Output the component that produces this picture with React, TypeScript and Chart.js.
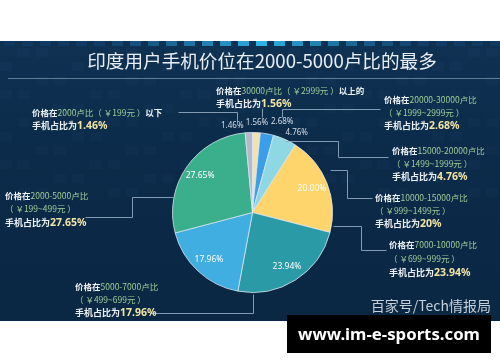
import React, { useEffect, useRef } from 'react';
import { Chart, registerables } from 'chart.js';

Chart.register(...registerables);

// ---------- data ----------
const categories = ['30000卢比以上', '20000-30000卢比', '15000-20000卢比', '10000-15000卢比', '7000-10000卢比', '5000-7000卢比', '2000-5000卢比', '2000卢比以下'];
const shares = [1.56, 2.68, 4.76, 20, 23.94, 17.96, 27.65, 1.46];
const rupeeRanges = ['30000卢比', '20000-30000卢比', '15000-20000卢比', '10000-15000卢比', '7000-10000卢比', '5000-7000卢比', '2000-5000卢比', '2000卢比'];
const yuanRanges = ['￥2999元', '￥1999~2999元', '￥1499~1999元', '￥999~1499元', '￥699~999元', '￥499~699元', '￥199~499元', '￥199元'];
const rangeSuffix = ['以上的', '', '', '', '', '', '', '以下'];
const titleText = '印度用户手机价位在2000-5000卢比的最多';
const sourceText = '百家号/Tech情报局';
const siteText = 'www.im-e-sports.com';

// ---------- styles / layout ----------
const sliceColors = ['#F3E3AA', '#3A9EEA', '#8ED8E4', '#FDD56C', '#2A9BA6', '#40AEE0', '#3BAF8B', '#B4B9CC'];
const CJK = '"Noto Sans CJK SC", "Noto Sans", sans-serif';
const LATIN = '"Noto Sans", "Noto Sans CJK SC", sans-serif';
const WHITE = '#EEF2F6';
const GREEN = '#9FCE98';
const CREAM = '#F1E4A4';
const LINE = 'rgba(150,175,200,0.85)';

const calloutLayout = [
  { x: 216, y: [91, 104], line: [[262, 108], [262, 117]] },
  { x: 384, y: [100, 113, 126], line: [[380, 109], [282, 109], [282, 117]] },
  { x: 392, y: [151, 164, 177], line: [[285, 141], [338, 141], [338, 157], [388, 157]] },
  { x: 375, y: [198, 211, 224], line: [[330, 170], [347, 170], [347, 198], [372, 198]] },
  { x: 389, y: [245, 259, 273], line: [[333, 226], [361, 226], [361, 250], [386, 250]] },
  { x: 75, y: [287, 300, 313], line: [[150, 313], [253, 313], [253, 294]] },
  { x: 5, y: [196, 209, 223], line: [[173, 197], [132, 197], [132, 217], [85, 217]] },
  { x: 32, y: [113, 126], line: [[178, 112], [237, 112], [237, 122]] },
];
const outerNudge = [[0, 2], [13, 0], [7, 4], [0, 0], [0, 0], [0, 0], [0, 0], [-16, 5]];

type Run = { text: string; font: string; color: string };

function drawRuns(ctx: CanvasRenderingContext2D, x: number, y: number, runs: Run[]) {
  let cx = x;
  ctx.textAlign = 'left';
  ctx.textBaseline = 'middle';
  for (const r of runs) {
    if (!r.text) continue;
    ctx.font = r.font;
    ctx.fillStyle = r.color;
    ctx.fillText(r.text, cx, y);
    cx += ctx.measureText(r.text).width;
  }
}

function fitFont(ctx: CanvasRenderingContext2D, text: string, weight: string, family: string, width: number) {
  ctx.font = `${weight} 20px ${family}`;
  const w = ctx.measureText(text).width;
  return `${weight} ${(20 * width / w).toFixed(2)}px ${family}`;
}

const backdropPlugin = {
  id: 'backdrop',
  beforeDraw(chart: any) {
    const ctx: CanvasRenderingContext2D = chart.ctx;
    const W = chart.width, H = chart.height;
    ctx.save();
    ctx.fillStyle = '#FFFFFF';
    ctx.fillRect(0, 0, W, H);
    const g = ctx.createLinearGradient(0, 41, 0, 321);
    g.addColorStop(0, '#0F3152');
    g.addColorStop(0.4, '#0C2B4A');
    g.addColorStop(1, '#0A2743');
    ctx.fillStyle = g;
    ctx.fillRect(0, 41, W, 280);
    // faint texture blocks
    ctx.fillStyle = 'rgba(60,110,160,0.06)';
    for (let x = 0; x < W; x += 18) {
      for (let y = 48; y < 200; y += 14) {
        if (((x * 7 + y * 3) % 5) < 2) ctx.fillRect(x, y, 12, 9);
      }
    }
    // top stripe of squares
    for (let x = 4; x < W; x += 18) {
      const d = Math.abs(x + 5 - 262) / 262;
      const bright = Math.max(0, 1 - d * 1.6);
      const r = Math.round(20 + 25 * bright);
      const gg = Math.round(70 + 110 * bright);
      const b = Math.round(120 + 110 * bright);
      const a = 0.35 + 0.65 * Math.max(0, 1 - d);
      ctx.fillStyle = `rgba(${r},${gg},${b},${a})`;
      ctx.fillRect(x, 41, 11, 5);
    }
    // title
    ctx.font = fitFont(ctx, titleText, '400', CJK, 350);
    ctx.fillStyle = '#E8EEF4';
    ctx.textAlign = 'center';
    ctx.textBaseline = 'middle';
    ctx.fillText(titleText, 262, 61);
    // title rule
    ctx.strokeStyle = 'rgba(160,185,210,0.55)';
    ctx.lineWidth = 1;
    ctx.beginPath();
    ctx.moveTo(8, 78.5);
    ctx.lineTo(W, 78.5);
    ctx.stroke();
    ctx.restore();
  },
  afterDatasetsDraw(chart: any) {
    const ctx: CanvasRenderingContext2D = chart.ctx;
    const meta = chart.getDatasetMeta(0);
    ctx.save();
    // slice labels
    meta.data.forEach((arc: any, i: number) => {
      const p = arc.getProps(['x', 'y', 'startAngle', 'endAngle', 'outerRadius'], true);
      const mid = (p.startAngle + p.endAngle) / 2;
      const v = shares[i];
      const txt = v.toFixed(2) + '%';
      ctx.textAlign = 'center';
      ctx.textBaseline = 'middle';
      if (v >= 10) {
        const r = p.outerRadius * 0.8;
        ctx.font = `400 8.5px ${LATIN}`;
        ctx.fillStyle = '#FFFFFF';
        ctx.fillText(txt, p.x + Math.cos(mid) * r, p.y + Math.sin(mid) * r);
      } else {
        const r = p.outerRadius + 12;
        ctx.font = `400 8px ${LATIN}`;
        ctx.fillStyle = '#D6DEE6';
        ctx.fillText(txt, p.x + Math.cos(mid) * r + outerNudge[i][0], p.y + Math.sin(mid) * r + outerNudge[i][1]);
      }
    });
    // callouts
    shares.forEach((v, i) => {
      const L = calloutLayout[i];
      ctx.strokeStyle = LINE;
      ctx.lineWidth = 1;
      ctx.beginPath();
      L.line.forEach((pt, k) => {
        const px = Math.round(pt[0]) + 0.5, py = Math.round(pt[1]) + 0.5;
        if (k === 0) ctx.moveTo(px, py); else ctx.lineTo(px, py);
      });
      ctx.stroke();
      const boldW = `700 8.5px ${CJK}`;
      const reg = `400 8.5px ${CJK}`;
      const pct: Run[] = [
        { text: '手机占比为', font: `700 9px ${CJK}`, color: WHITE },
        { text: `${v}%`, font: `700 10.5px ${LATIN}`, color: CREAM },
      ];
      if (L.y.length === 2) {
        drawRuns(ctx, L.x, L.y[0], [
          { text: '价格在', font: boldW, color: WHITE },
          { text: `${rupeeRanges[i]}（ ${yuanRanges[i]} ）`, font: reg, color: GREEN },
          { text: rangeSuffix[i], font: boldW, color: WHITE },
        ]);
        drawRuns(ctx, L.x, L.y[1], pct);
      } else {
        drawRuns(ctx, L.x, L.y[0], [
          { text: '价格在', font: boldW, color: WHITE },
          { text: rupeeRanges[i], font: reg, color: GREEN },
        ]);
        drawRuns(ctx, L.x, L.y[1], [{ text: `（ ${yuanRanges[i]} ）`, font: reg, color: GREEN }]);
        drawRuns(ctx, L.x, L.y[2], pct);
      }
    });
    // source watermark
    ctx.font = `400 14px ${CJK}`;
    ctx.fillStyle = '#C8D0D9';
    ctx.textAlign = 'right';
    ctx.textBaseline = 'middle';
    ctx.fillText(sourceText, 491, 306);
    // site badge
    ctx.fillStyle = '#000000';
    ctx.fillRect(287, 315, 204, 38);
    ctx.font = fitFont(ctx, siteText, '700', LATIN, 182);
    ctx.fillStyle = '#FFFFFF';
    ctx.textAlign = 'center';
    ctx.fillText(siteText, 389, 335);
    ctx.restore();
  },
};

export default function App() {
  const ref = useRef<HTMLCanvasElement | null>(null);
  useEffect(() => {
    if (!ref.current) return;
    const chart = new Chart(ref.current, {
      type: 'pie',
      data: {
        labels: categories,
        datasets: [
          {
            data: shares,
            backgroundColor: sliceColors,
            borderColor: 'rgba(225,235,245,0.75)',
            borderWidth: 1,
          },
        ],
      },
      options: {
        responsive: false,
        animation: false,
        devicePixelRatio: 1,
        events: [],
        layout: { padding: { top: 132, bottom: 69, left: 5, right: 0 } },
        plugins: {
          legend: { display: false },
          tooltip: { enabled: false },
          title: { display: false },
        },
      },
      plugins: [backdropPlugin],
    });
    return () => chart.destroy();
  }, []);
  return (
    <div style={{ position: 'fixed', left: 0, top: 0, width: 500, height: 362, background: '#fff' }}>
      <canvas ref={ref} width={500} height={362} style={{ display: 'block', width: 500, height: 362 }} />
    </div>
  );
}
